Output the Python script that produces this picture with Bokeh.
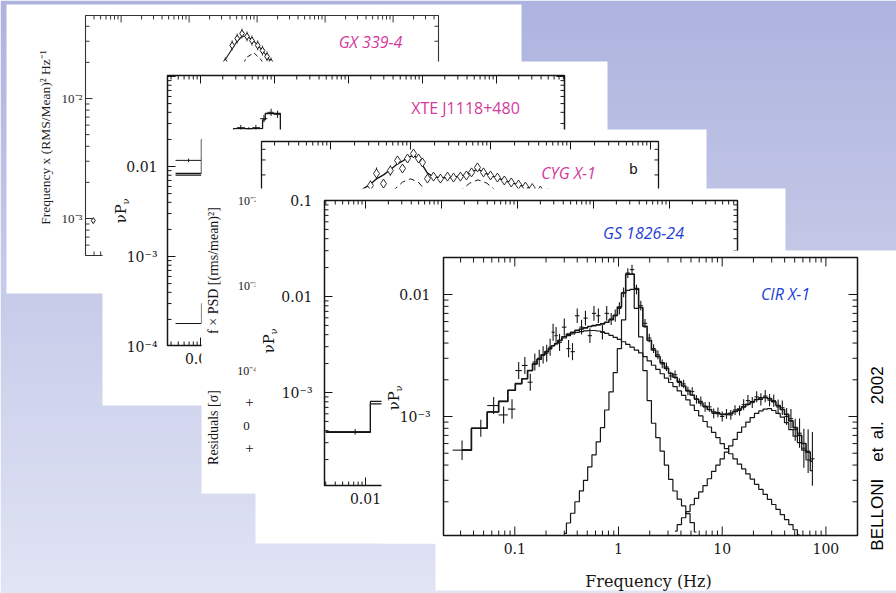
import math
from bokeh.plotting import figure
from bokeh.models import Range1d, LogScale
from bokeh.core.properties import value
from bokeh.embed import file_html
from bokeh.resources import INLINE

W, H = 896, 593
INK = "#161616"
MAGENTA = "#d43a9e"
BLUE = "#1e3fd4"

# ---------------- data ----------------
# CIR X-1 (front panel)
cir_freq = [0.031, 0.047, 0.0625, 0.078, 0.094, 0.109, 0.125, 0.141, 0.156, 0.172,
            0.1875, 0.203, 0.219, 0.234, 0.25, 0.27, 0.30, 0.33, 0.36, 0.40,
            0.44, 0.48, 0.53, 0.58, 0.64, 0.70, 0.77, 0.85, 0.93, 1.02,
            1.12, 1.23, 1.35, 1.49, 1.64, 1.80, 1.98, 2.18, 2.40, 2.64,
            2.90, 3.19, 3.51, 3.86, 4.25, 4.67, 5.14, 5.65, 6.22, 6.84,
            7.52, 8.28, 9.10, 10.0, 11.0, 12.1, 13.3, 14.7, 16.1, 17.7,
            19.5, 21.5, 23.6, 26.0, 28.6, 31.4, 34.6, 38.0, 41.8, 46.0,
            50.6, 55.7, 61.3, 67.4, 74.1]
cir_power = [5.3e-4, 8.0e-4, 1.23e-3, 1.03e-3, 1.15e-3, 2.38e-3, 2.62e-3, 1.91e-3, 2.8e-3, 3.0e-3,
             3.2e-3, 3.3e-3, 3.7e-3, 4.9e-3, 4.6e-3, 4.05e-3, 5.4e-3, 3.6e-3, 3.4e-3, 6.7e-3,
             5.4e-3, 6.4e-3, 4.6e-3, 7.0e-3, 6.7e-3, 4.9e-3, 7.0e-3, 6.3e-3, 6.7e-3, 7.7e-3,
             1.04e-2, 1.50e-2, 1.60e-2, 1.10e-2, 8.1e-3, 5.8e-3, 4.4e-3, 3.6e-3, 3.2e-3, 2.7e-3,
             2.55e-3, 2.15e-3, 2.2e-3, 1.9e-3, 1.85e-3, 1.62e-3, 1.6e-3, 1.38e-3, 1.33e-3, 1.2e-3,
             1.2e-3, 1.06e-3, 1.08e-3, 1.0e-3, 1.05e-3, 1.03e-3, 1.13e-3, 1.12e-3, 1.25e-3, 1.35e-3,
             1.3e-3, 1.45e-3, 1.38e-3, 1.47e-3, 1.36e-3, 1.35e-3, 1.2e-3, 1.18e-3, 1.0e-3, 9.6e-4,
             7.8e-4, 7.3e-4, 5.5e-4, 5.2e-4, 4.5e-4]
cir_err_dex = [0.08, 0.07, 0.07, 0.07, 0.08, 0.07, 0.07, 0.07, 0.07, 0.07,
               0.07, 0.07, 0.07, 0.07, 0.07, 0.07, 0.07, 0.07, 0.07, 0.06,
               0.06, 0.06, 0.06, 0.06, 0.06, 0.06, 0.06, 0.05, 0.05, 0.05,
               0.04, 0.04, 0.04, 0.04, 0.04, 0.035, 0.035, 0.035, 0.035, 0.035,
               0.035, 0.035, 0.035, 0.035, 0.035, 0.035, 0.035, 0.035, 0.04, 0.04,
               0.04, 0.04, 0.04, 0.04, 0.04, 0.04, 0.04, 0.04, 0.045, 0.045,
               0.045, 0.045, 0.05, 0.05, 0.05, 0.05, 0.06, 0.06, 0.07, 0.08,
               0.09, 0.12, 0.16, 0.18, 0.22]
cir_model_total = [5.3e-4, 8.0e-4, 1.09e-3, 1.33e-3, 1.64e-3, 1.86e-3, 2.04e-3, 2.38e-3, 2.7e-3, 2.95e-3,
                   3.2e-3, 3.4e-3, 3.6e-3, 3.8e-3, 3.95e-3, 4.2e-3, 4.51e-3, 4.73e-3, 4.91e-3, 5.08e-3,
                   5.22e-3, 5.33e-3, 5.46e-3, 5.56e-3, 5.64e-3, 5.74e-3, 5.93e-3, 6.21e-3, 6.74e-3, 7.88e-3,
                   1.03e-2, 1.47e-2, 1.47e-2, 1.12e-2, 7.82e-3, 5.48e-3, 4.21e-3, 3.51e-3, 3.10e-3, 2.76e-3,
                   2.48e-3, 2.25e-3, 2.1e-3, 1.93e-3, 1.78e-3, 1.63e-3, 1.5e-3, 1.39e-3, 1.29e-3, 1.21e-3,
                   1.14e-3, 1.09e-3, 1.06e-3, 1.04e-3, 1.04e-3, 1.06e-3, 1.1e-3, 1.15e-3, 1.2e-3, 1.26e-3,
                   1.32e-3, 1.38e-3, 1.42e-3, 1.43e-3, 1.4e-3, 1.32e-3, 1.23e-3, 1.14e-3, 1.04e-3, 9.2e-4,
                   8.1e-4, 7.0e-4, 6.0e-4, 5.1e-4, 4.3e-4]
cir_broad = [5.3e-4, 8.0e-4, 1.09e-3, 1.33e-3, 1.64e-3, 1.86e-3, 2.04e-3, 2.38e-3, 2.7e-3, 2.95e-3,
             3.2e-3, 3.4e-3, 3.6e-3, 3.8e-3, 3.95e-3, 4.2e-3, 4.4e-3, 4.6e-3, 4.75e-3, 4.88e-3,
             4.97e-3, 5.03e-3, 5.07e-3, 5.07e-3, 5.02e-3, 4.93e-3, 4.8e-3, 4.62e-3, 4.45e-3, 4.28e-3,
             4.1e-3, 3.9e-3, 3.7e-3, 3.5e-3, 3.32e-3, 3.1e-3, 2.86e-3, 2.63e-3, 2.43e-3, 2.24e-3,
             2.06e-3, 1.9e-3, 1.76e-3, 1.62e-3, 1.49e-3, 1.37e-3, 1.24e-3, 1.12e-3, 1.01e-3, 9.1e-4,
             8.2e-4, 7.4e-4, 6.7e-4, 6.0e-4, 5.45e-4, 4.95e-4, 4.5e-4, 4.07e-4, 3.72e-4, 3.38e-4,
             3.07e-4, 2.78e-4, 2.53e-4, 2.3e-4, 2.09e-4, 1.9e-4, 1.73e-4, 1.57e-4, 1.43e-4, 1.3e-4,
             1.18e-4, 1.07e-4]
cir_qpo_freq = [0.30, 0.33, 0.36, 0.40, 0.44, 0.48, 0.53, 0.58, 0.64, 0.70,
                0.77, 0.85, 0.93, 1.02, 1.12, 1.23, 1.35, 1.49, 1.64, 1.80,
                1.98, 2.18, 2.40, 2.64, 2.90, 3.19, 3.51, 3.86, 4.25, 4.67,
                5.14, 5.65]
cir_qpo = [1.1e-4, 1.34e-4, 1.61e-4, 2.0e-4, 2.46e-4, 3.0e-4, 3.87e-4, 4.85e-4, 6.2e-4, 8.1e-4,
           1.13e-3, 1.59e-3, 2.29e-3, 3.6e-3, 6.2e-3, 1.08e-2, 1.10e-2, 7.7e-3, 4.5e-3, 2.38e-3,
           1.35e-3, 8.8e-4, 6.7e-4, 5.2e-4, 4.0e-4, 3.05e-4, 2.45e-4, 2.1e-4, 1.85e-4, 1.6e-4,
           1.35e-4, 1.13e-4]
cir_hf_freq = [3.51, 3.86, 4.25, 4.67, 5.14, 5.65, 6.22, 6.84, 7.52, 8.28,
               9.10, 10.0, 11.0, 12.1, 13.3, 14.7, 16.1, 17.7, 19.5, 21.5,
               23.6, 26.0, 28.6, 31.4, 34.6, 38.0, 41.8, 46.0, 50.6, 55.7,
               61.3, 67.4, 74.1]
cir_hf = [1.15e-4, 1.3e-4, 1.48e-4, 1.66e-4, 1.89e-4, 2.13e-4, 2.41e-4, 2.71e-4, 3.09e-4, 3.55e-4,
          4.0e-4, 4.5e-4, 5.1e-4, 5.75e-4, 6.5e-4, 7.4e-4, 8.2e-4, 9.0e-4, 9.8e-4, 1.06e-3,
          1.11e-3, 1.15e-3, 1.16e-3, 1.12e-3, 1.06e-3, 9.9e-4, 8.9e-4, 7.8e-4, 6.9e-4, 6.1e-4,
          5.3e-4, 4.4e-4, 3.6e-4]
cir_xticks = [0.1, 1, 10, 100]
cir_xtick_labels = ["0.1", "1", "10", "100"]
cir_yticks = [0.01, 0.001]
cir_ytick_labels = ["0.01", "10\u207b\u00b3"]

# GX 339-4 (back panel)
gx_freq = [0.34, 0.43, 0.51, 0.60, 0.71, 0.84, 1.02, 1.2, 1.4, 1.6, 1.9]
gx_power = [0.020, 0.0277, 0.0316, 0.0348, 0.0329, 0.0304, 0.0277, 0.0251, 0.0224, 0.020, 0.017]
gx_model = [0.021, 0.026, 0.030, 0.033, 0.033, 0.031, 0.028, 0.025, 0.0225, 0.020, 0.017]
gx_comp_freq = [0.55, 0.7, 0.9, 1.15, 1.5]
gx_comp = [0.017, 0.022, 0.024, 0.021, 0.016]
gx_low_freq = [0.0039]
gx_low_power = [9.6e-4]
gx_yticks = [0.01, 0.001]
gx_ytick_labels = ["10\u207b\u00b2", "10\u207b\u00b3"]

# XTE J1118+480
xte_freq = [0.0069, 0.035, 0.045, 0.056, 0.072, 0.09, 0.11]
xte_power = [0.0117, 0.027, 0.0255, 0.027, 0.034, 0.040, 0.038]
xte_err_dex = [0.02, 0.03, 0.03, 0.03, 0.04, 0.04, 0.04]
xte_bin_lo = [0.0046, 0.031, 0.040, 0.050, 0.064, 0.080, 0.098]
xte_bin_hi = [0.0103, 0.040, 0.050, 0.064, 0.080, 0.098, 0.12]
xte_model_edges = [0.0046, 0.0103, 0.028, 0.069, 0.075, 0.12, 0.2]
xte_model = [0.0084, 0.02, 0.0264, 0.033, 0.0388, 0.024, 0.024]
xte_comp1_edges = [0.0046, 0.0103]
xte_comp1 = [0.0080, 0.0080]
xte_comp2_edges = [0.0046, 0.0103, 0.03]
xte_comp2 = [1.8e-4, 3.0e-4, 3.0e-4]
xte_yticks = [0.01, 0.001, 0.0001]
xte_ytick_labels = ["0.01", "10\u207b\u00b3", "10\u207b\u2074"]

# CYG X-1
cyg_freq = [0.0216, 0.0316, 0.0376, 0.046, 0.056, 0.0688, 0.0794, 0.0917, 0.109, 0.126,
            0.141, 0.163, 0.194, 0.237, 0.29, 0.345, 0.42, 0.5, 0.58, 0.687,
            0.817, 1.0, 1.22, 1.49, 1.82, 2.24, 2.73, 3.33, 4.2, 5.3, 6.7]
cyg_power = [0.0118, 0.015, 0.0208, 0.0158, 0.0225, 0.0296, 0.0238, 0.0312, 0.0357, 0.0312,
             0.028, 0.0181, 0.0191, 0.0181, 0.0191, 0.0186, 0.0191, 0.0197, 0.0214, 0.0245,
             0.0214, 0.0197, 0.0186, 0.0172, 0.0163, 0.0154, 0.0146, 0.014, 0.0131, 0.0122, 0.0113]
cyg_model = [0.0125, 0.0155, 0.018, 0.02, 0.023, 0.027, 0.029, 0.032, 0.034, 0.031,
             0.026, 0.021, 0.019, 0.0185, 0.0185, 0.0188, 0.0195, 0.02, 0.0215, 0.0235,
             0.0215, 0.0198, 0.0185, 0.0172, 0.0162, 0.0153, 0.0145, 0.0138, 0.013, 0.0121, 0.0112]
cyg_err_dex = [0.06, 0.06, 0.07, 0.05, 0.06, 0.05, 0.05, 0.04, 0.04, 0.04,
               0.04, 0.04, 0.04, 0.04, 0.03, 0.03, 0.03, 0.03, 0.03, 0.03,
               0.03, 0.03, 0.03, 0.03, 0.03, 0.03, 0.03, 0.03, 0.03, 0.03, 0.03]
cyg_comp1_freq = [0.06, 0.08, 0.1, 0.125, 0.16]
cyg_comp1 = [0.0130, 0.0165, 0.018, 0.0165, 0.0125]
cyg_comp2_freq = [0.4, 0.55, 0.7, 0.9, 1.2]
cyg_comp2 = [0.0125, 0.016, 0.0175, 0.016, 0.0128]
cyg_yticks = [0.01, 0.001, 0.0001]
cyg_ytick_labels = ["10\u207b\u00b2", "10\u207b\u00b3", "10\u207b\u2074"]

# GS 1826-24
gs_freq = [0.0073]
gs_power = [3.9e-4]
gs_err_dex = [0.03]
gs_bin_lo = [0.003]
gs_bin_hi = [0.0116]
gs_model_edges = [0.003, 0.0116, 0.03]
gs_model = [3.9e-4, 8.1e-4, 8.1e-4]
gs_model2 = [3.85e-4, 7.6e-4, 7.6e-4]
gs_yticks = [0.1, 0.01, 0.001]
gs_ytick_labels = ["0.1", "0.01", "10\u207b\u00b3"]

# ---------------- canvas ----------------
p = figure(width=W, height=H, x_range=Range1d(0, W), y_range=Range1d(H, 0),
           x_axis_type=None, y_axis_type=None, toolbar_location=None,
           output_backend="svg", min_border=0)
p.outline_line_color = None
p.background_fill_color = "white"
p.border_fill_color = None


class LogMap:
    """Log-log chart placed on the slide: reference ticks (pixel, value)."""
    def __init__(self, name, pxa, fa, pxb, fb, pya, va, pyb, vb):
        self.xr, self.yr = name + "_x", name + "_y"
        self.lfa, self.lva = math.log10(fa), math.log10(va)
        self.pxa, self.pya = pxa, pya
        self.kx = (pxb - pxa) / (math.log10(fb) - self.lfa)
        self.ky = (pyb - pya) / (math.log10(vb) - self.lva)

    def fx(self, px):
        return 10 ** (self.lfa + (px - self.pxa) / self.kx)

    def fy(self, py):
        return 10 ** (self.lva + (py - self.pya) / self.ky)


gx = LogMap("gx", 120.6, 0.01, 188.6, 0.1, 98, 0.01, 218, 0.001)
xte = LogMap("xte", 200, 0.01, 274, 0.1, 166, 0.01, 256, 0.001)
cyg = LogMap("cyg", 410, 0.1, 490, 1.0, 200, 0.01, 285, 0.001)
gs = LogMap("gs", 365, 0.01, 441, 0.1, 200, 0.1, 296, 0.01)
cir = LogMap("cir", 514.3, 0.1, 825.4, 100.0, 294, 0.01, 416, 0.001)
maps = [gx, xte, cyg, gs, cir]
p.extra_x_ranges = {m.xr: Range1d(m.fx(0), m.fx(W)) for m in maps}
p.extra_y_ranges = {m.yr: Range1d(m.fy(H), m.fy(0)) for m in maps}
p.extra_x_scales = {m.xr: LogScale() for m in maps}
p.extra_y_scales = {m.yr: LogScale() for m in maps}


def log_ticks(lo, hi):
    maj, mnr = [], []
    for e in range(-7, 5):
        for k in range(1, 10):
            t = k * 10.0 ** e
            if lo <= t <= hi:
                (maj if k == 1 else mnr).append(t)
    return maj, mnr


def frame(m, x0, y0, x1, y1, lw=1.3, lmaj=8, lmin=4, color=INK, tlw=1.0):
    p.quad(left=[x0], right=[x1], top=[y0], bottom=[y1], fill_color=None,
           line_color=color, line_width=lw)
    xmaj, xmin = log_ticks(m.fx(x0 + 1), m.fx(x1 - 1))
    ymaj, ymin = log_ticks(m.fy(y1 - 1), m.fy(y0 + 1))
    for t, L in ((xmaj, lmaj), (xmin, lmin)):
        if t:
            n = len(t)
            p.segment(x0=t, x1=t, y0=[y0] * n, y1=[y0 + L] * n, x_range_name=m.xr,
                      line_color=color, line_width=tlw)
            p.segment(x0=t, x1=t, y0=[y1] * n, y1=[y1 - L] * n, x_range_name=m.xr,
                      line_color=color, line_width=tlw)
    for t, L in ((ymaj, lmaj), (ymin, lmin)):
        if t:
            n = len(t)
            p.segment(x0=[x0] * n, x1=[x0 + L] * n, y0=t, y1=t, y_range_name=m.yr,
                      line_color=color, line_width=tlw)
            p.segment(x0=[x1] * n, x1=[x1 - L] * n, y0=t, y1=t, y_range_name=m.yr,
                      line_color=color, line_width=tlw)


def txt(x, y, s, size=14, font="DejaVu Serif", color=INK, align="center",
        baseline="middle", angle=0.0, style="normal", xr="default", yr="default"):
    xs = x if isinstance(x, list) else [x]
    ys = y if isinstance(y, list) else [y]
    ss = s if isinstance(s, list) else [s]
    n = max(len(xs), len(ys), len(ss))
    xs = xs * n if len(xs) == 1 else xs
    ys = ys * n if len(ys) == 1 else ys
    p.text(x=xs, y=ys, text=ss, text_font=value(font), text_font_size=value(f"{size}px"),
           text_color=color, text_align=align, text_baseline=baseline, angle=angle,
           text_font_style=value(style), x_range_name=xr, y_range_name=yr)


def nu_p(xc, yc, size=15):
    y0 = yc + 0.72 * size
    txt(xc, y0, "\u03bdP", size, align="left", angle=math.pi / 2)
    txt(xc + 0.3 * size, y0 - 1.25 * size, "\u03bd", round(size * 0.68), align="left",
        angle=math.pi / 2)


def panel(x0, y0, x1, y1):
    p.quad(left=[x0], right=[x1], top=[y0], bottom=[y1], fill_color="white", line_color=None)


def errbars(m, f, v, edex, lo, hi, lw=1.0, color=INK):
    p.segment(x0=f, x1=f, y0=[a / 10 ** e for a, e in zip(v, edex)],
              y1=[a * 10 ** e for a, e in zip(v, edex)],
              x_range_name=m.xr, y_range_name=m.yr, line_color=color, line_width=lw)
    p.segment(x0=lo, x1=hi, y0=v, y1=v, x_range_name=m.xr, y_range_name=m.yr,
              line_color=color, line_width=lw)


# ---------------- slide background (vertical gradient) ----------------
nb = 74
c0, c1 = (0xad, 0xb3, 0xde), (0xe1, 0xe4, 0xf4)
band_top = [i * H / nb for i in range(nb)]
band_bot = [(i + 1) * H / nb + 0.6 for i in range(nb)]
band_col = ["#%02x%02x%02x" % tuple(int(round(c0[k] + (c1[k] - c0[k]) * (i + 0.5) / nb))
                                     for k in range(3)) for i in range(nb)]
p.quad(left=[0] * nb, right=[W] * nb, top=band_top, bottom=band_bot,
       fill_color=band_col, line_color=None)

# ---------------- panel 1: GX 339-4 ----------------
panel(6, 4, 521, 293)
frame(gx, 85, 15, 438, 255, lw=1.1, lmaj=7, lmin=4, color="#333333")
p.line(gx_freq, gx_model, x_range_name=gx.xr, y_range_name=gx.yr, line_color=INK, line_width=1.1)
p.line(gx_comp_freq, gx_comp, x_range_name=gx.xr, y_range_name=gx.yr, line_color=INK,
       line_width=1.0, line_dash="5 3")
p.segment(x0=gx_freq, x1=gx_freq, y0=[v / 1.1 for v in gx_power], y1=[v * 1.1 for v in gx_power],
          x_range_name=gx.xr, y_range_name=gx.yr, line_color=INK, line_width=0.9)
p.scatter(gx_freq, gx_power, marker="diamond", size=7, fill_color="white", line_color=INK,
          x_range_name=gx.xr, y_range_name=gx.yr)
p.scatter(gx_low_freq, gx_low_power, marker="diamond", size=6, fill_color="white",
          line_color=INK, x_range_name=gx.xr, y_range_name=gx.yr)
txt(82, gx_yticks, gx_ytick_labels, 13, font="Liberation Serif", color="#2a2a2a",
    align="right", yr=gx.yr)
txt(45, 137, "Frequency x (RMS/Mean)\u00b2 Hz\u207b\u00b9", 13.5, font="Liberation Serif",
    color="#1e1e1e", angle=math.pi / 2)
txt(370, 41, "GX 339-4", 16, font="Open Sans", color=MAGENTA, style="italic")

# ---------------- panel 2: XTE J1118+480 ----------------
panel(102, 61, 607, 405)
frame(xte, 167, 75, 564, 345, lw=1.5, lmaj=8, lmin=4)
p.step(xte_model_edges, xte_model, mode="after", x_range_name=xte.xr, y_range_name=xte.yr,
       line_color=INK, line_width=1.3)
p.step(xte_comp1_edges, xte_comp1, mode="after", x_range_name=xte.xr, y_range_name=xte.yr,
       line_color=INK, line_width=1.3)
p.step(xte_comp2_edges, xte_comp2, mode="after", x_range_name=xte.xr, y_range_name=xte.yr,
       line_color=INK, line_width=1.0)
errbars(xte, xte_freq, xte_power, xte_err_dex, xte_bin_lo, xte_bin_hi, lw=1.0)
txt(157, xte_yticks, xte_ytick_labels, 14, align="right", yr=xte.yr)
txt(0.01, 358, "0.01", 14, xr=xte.xr)
nu_p(120, 212, 15)
txt(465, 107, "XTE J1118+480", 16, font="Open Sans", color=MAGENTA)

# ---------------- panel 3: CYG X-1 ----------------
panel(201, 129, 706, 493)
frame(cyg, 261, 141, 658, 470, lw=1.3, lmaj=8, lmin=4)
p.segment(x0=[261], x1=[658], y0=[385], y1=[385], line_color=INK, line_width=1.3)
p.line(cyg_comp1_freq, cyg_comp1, x_range_name=cyg.xr, y_range_name=cyg.yr, line_color=INK,
       line_width=1.0, line_dash="6 4")
p.line(cyg_comp2_freq, cyg_comp2, x_range_name=cyg.xr, y_range_name=cyg.yr, line_color=INK,
       line_width=1.0, line_dash="6 4")
p.line(cyg_freq, cyg_model, x_range_name=cyg.xr, y_range_name=cyg.yr, line_color=INK,
       line_width=1.4)
p.segment(x0=cyg_freq, x1=cyg_freq, y0=[v / 10 ** e for v, e in zip(cyg_power, cyg_err_dex)],
          y1=[v * 10 ** e for v, e in zip(cyg_power, cyg_err_dex)],
          x_range_name=cyg.xr, y_range_name=cyg.yr, line_color=INK, line_width=1.0)
p.scatter(cyg_freq, cyg_power, marker="diamond", size=9, fill_color="white", line_color=INK,
          line_width=0.9, x_range_name=cyg.xr, y_range_name=cyg.yr)
txt(257, cyg_yticks, cyg_ytick_labels, 12, font="Liberation Serif", align="right", yr=cyg.yr)
txt(213, 270, "f \u00d7 PSD [(rms/mean)\u00b2]", 14, font="Liberation Serif", angle=math.pi / 2)
txt(213, 427, "Residuals [\u03c3]", 14, font="Liberation Serif", angle=math.pi / 2)
txt(246, 425, "0", 13, font="Liberation Serif")
txt(249, [401, 447], ["+", "+"], 15, font="Liberation Serif")
txt(568, 172, "CYG X-1", 16, font="Open Sans", color=MAGENTA, style="italic")
txt(633, 168, "b", 15, font="Liberation Sans")

# ---------------- panel 4: GS 1826-24 ----------------
panel(255, 188, 785, 543)
frame(gs, 324, 200, 737, 485, lw=1.5, lmaj=8, lmin=4)
p.step(gs_model_edges, gs_model, mode="after", x_range_name=gs.xr, y_range_name=gs.yr,
       line_color=INK, line_width=1.2)
p.step(gs_model_edges, gs_model2, mode="after", x_range_name=gs.xr, y_range_name=gs.yr,
       line_color=INK, line_width=1.2)
errbars(gs, gs_freq, gs_power, gs_err_dex, gs_bin_lo, gs_bin_hi, lw=1.0)
txt(312, gs_yticks, gs_ytick_labels, 14, align="right", yr=gs.yr)
txt(0.01, 498, "0.01", 14, xr=gs.xr)
nu_p(268, 342, 15)
txt(643, 232, "GS 1826-24", 16, font="Open Sans", color=BLUE, style="italic")

# ---------------- panel 5: CIR X-1 (front) ----------------
panel(381, 250, 896, 543)
panel(435, 540, 896, 590)
frame(cir, 443, 257, 857, 535, lw=1.5, lmaj=9, lmin=5)
# bin edges of the data points (midway between neighbouring bins on the log axis)
mids = [math.sqrt(a * b) for a, b in zip(cir_freq[:-1], cir_freq[1:])]
cir_lo = [cir_freq[0] ** 2 / mids[0]] + mids
cir_hi = mids + [cir_freq[-1] ** 2 / mids[-1]]
p.step(cir_freq[:len(cir_broad)], cir_broad, mode="center", x_range_name=cir.xr,
       y_range_name=cir.yr, line_color=INK, line_width=1.2)
p.step(cir_qpo_freq, cir_qpo, mode="center", x_range_name=cir.xr, y_range_name=cir.yr,
       line_color=INK, line_width=1.2)
p.step(cir_hf_freq, cir_hf, mode="center", x_range_name=cir.xr, y_range_name=cir.yr,
       line_color=INK, line_width=1.2)
p.step(cir_freq, cir_model_total, mode="center", x_range_name=cir.xr, y_range_name=cir.yr,
       line_color=INK, line_width=1.6)
errbars(cir, cir_freq, cir_power, cir_err_dex, cir_lo, cir_hi, lw=1.1)
txt(430, cir_yticks, cir_ytick_labels, 14, align="right", yr=cir.yr)
txt(cir_xticks, 548, cir_xtick_labels, 14, xr=cir.xr)
txt(648, 581, "Frequency (Hz)", 16)
nu_p(393, 399, 15)
txt(785, 293, "CIR X-1", 16, font="Open Sans", color=BLUE, style="italic")
txt(877, 458, "BELLONI\u2003et\u2002al.\u20032002", 17, font="Liberation Sans",
    color="#000000", angle=math.pi / 2)

open("out.html", "w").write(file_html(p, INLINE))
